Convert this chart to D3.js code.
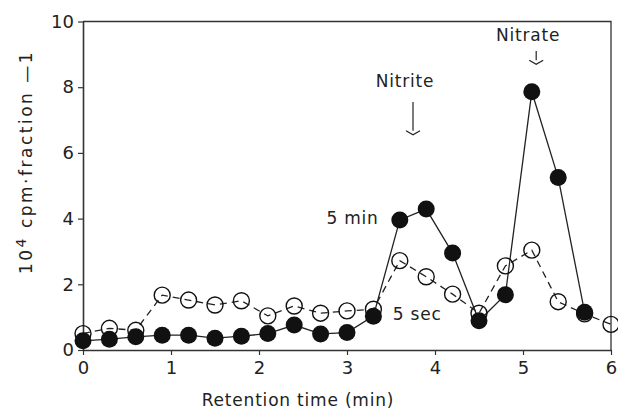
<!DOCTYPE html>
<html>
<head>
<meta charset="utf-8">
<script src="https://cdn.jsdelivr.net/npm/d3@7"></script>
<style>
  body { margin: 0; background: #fff; }
  text { font-family: "DejaVu Sans", sans-serif; fill: #222; }
</style>
</head>
<body>
<div id="chart"></div>
<script>
////////////////////////////////////////////////////////////////////////
// Data

// retention time of each collected fraction (min)
let time = [0, 0.3, 0.6, 0.9, 1.2, 1.5, 1.8, 2.1, 2.4, 2.7, 3.0,
            3.3, 3.6, 3.9, 4.2, 4.5, 4.8, 5.1, 5.4, 5.7, 6.0];

// 5 min labelling (filled circles), 10^4 cpm per fraction
let fiveMin = [0.28, 0.33, 0.40, 0.45, 0.45, 0.36, 0.42, 0.50, 0.76, 0.49, 0.53,
               1.03, 3.96, 4.29, 2.95, 0.89, 1.68, 7.86, 5.25, 1.15];

// 5 sec labelling (open circles)
let fiveSec = [0.50, 0.66, 0.60, 1.67, 1.52, 1.37, 1.50, 1.04, 1.34, 1.12, 1.19,
               1.24, 2.72, 2.23, 1.70, 1.12, 2.56, 3.04, 1.47, 1.10, 0.78];

let xTicks = [0, 1, 2, 3, 4, 5, 6];
let yTicks = [0, 2, 4, 6, 8, 10];

// peak markers: [label, retention time, label y value, arrow top, arrow tip]
let peaks = [
  ["Nitrite", 3.75, 8.0, 7.55, 6.55],
  ["Nitrate", 5.15, 9.4, 9.1, 8.7]
];

////////////////////////////////////////////////////////////////////////
// Layout

let width = 618;
let height = 414;

let svg = d3.select("#chart")
  .append("svg")
  .attr("width", width)
  .attr("height", height);

let xScale = d3.scaleLinear().domain([0, 6]).range([83, 611]);
let yScale = d3.scaleLinear().domain([0, 10]).range([350, 21.5]);

// frame: top and right edges
svg.append("path")
  .attr("d", `M${xScale(0)},${yScale(10)}H${xScale(6)}V${yScale(0)}`)
  .style("fill", "none")
  .style("stroke", "#333")
  .style("stroke-width", 1.3);

// axes
let xAxis = svg.append("g")
  .attr("transform", `translate(0, ${yScale(0)})`)
  .call(d3.axisBottom(xScale).tickValues(xTicks).tickFormat(d3.format("d"))
    .tickSize(5).tickPadding(6).tickSizeOuter(0));

let yAxis = svg.append("g")
  .attr("transform", `translate(${xScale(0)}, 0)`)
  .call(d3.axisLeft(yScale).tickValues(yTicks).tickFormat(d3.format("d"))
    .tickSize(5).tickPadding(4).tickSizeOuter(0));

[xAxis, yAxis].forEach(ax => {
  ax.select(".domain").style("stroke", "#333").style("stroke-width", 1.6);
  ax.selectAll(".tick line").style("stroke", "#333").style("stroke-width", 1.2);
  ax.selectAll(".tick text")
    .style("font-family", "DejaVu Sans, sans-serif")
    .style("font-size", "18px")
    .style("fill", "#222");
});

// axis titles
svg.append("text")
  .attr("x", 298)
  .attr("y", 406)
  .attr("text-anchor", "middle")
  .style("font-size", "17px")
  .style("letter-spacing", "0.8px")
  .text("Retention time (min)");

let yTitle = svg.append("text")
  .attr("transform", "translate(32, 162) rotate(-90)")
  .attr("text-anchor", "middle")
  .style("font-size", "17px")
  .style("letter-spacing", "2.5px");
yTitle.append("tspan").text("10");
yTitle.append("tspan").attr("dy", -6).style("font-size", "14px").text("4");
yTitle.append("tspan").attr("dy", 6).text(" cpm·fraction —1");

////////////////////////////////////////////////////////////////////////
// Series

let line = d3.line()
  .x((d, i) => xScale(time[i]))
  .y(d => yScale(d));

svg.append("path")
  .datum(fiveSec)
  .attr("d", line)
  .style("fill", "none")
  .style("stroke", "#222")
  .style("stroke-width", 1.3)
  .style("stroke-dasharray", "7,5");

svg.append("path")
  .datum(fiveMin)
  .attr("d", line)
  .style("fill", "none")
  .style("stroke", "#222")
  .style("stroke-width", 1.3);

svg.append("g")
  .selectAll("circle")
  .data(fiveSec)
  .join("circle")
  .attr("cx", (d, i) => xScale(time[i]))
  .attr("cy", d => yScale(d))
  .attr("r", 8)
  .style("fill", "none")
  .style("stroke", "#111")
  .style("stroke-width", 1.4);

svg.append("g")
  .selectAll("circle")
  .data(fiveMin)
  .join("circle")
  .attr("cx", (d, i) => xScale(time[i]))
  .attr("cy", d => yScale(d))
  .attr("r", 8.5)
  .style("fill", "#111");

////////////////////////////////////////////////////////////////////////
// Annotations

svg.append("text")
  .attr("x", xScale(3.36))
  .attr("y", yScale(3.85))
  .attr("text-anchor", "end")
  .style("font-size", "17px")
  .style("letter-spacing", "0.8px")
  .text("5 min");

svg.append("text")
  .attr("x", xScale(3.52))
  .attr("y", yScale(0.92))
  .style("font-size", "17px")
  .style("letter-spacing", "0.8px")
  .text("5 sec");

let marks = svg.append("g")
  .selectAll("g")
  .data(peaks)
  .join("g");

marks.append("text")
  .attr("x", d => xScale(d[1]) - 8)
  .attr("y", d => yScale(d[2]))
  .attr("text-anchor", "middle")
  .style("font-size", "17px")
  .style("letter-spacing", "0.8px")
  .text(d => d[0]);

marks.append("path")
  .attr("d", d => {
    let x = xScale(d[1]);
    return `M${x},${yScale(d[3])}V${yScale(d[4]) - 4}`;
  })
  .style("fill", "none")
  .style("stroke", "#222")
  .style("stroke-width", 1.2);

marks.append("path")
  .attr("d", d => {
    let x = xScale(d[1]), y = yScale(d[4]);
    return `M${x - 7},${y - 4}L${x},${y}L${x + 7},${y - 4}`;
  })
  .style("fill", "none")
  .style("stroke", "#222")
  .style("stroke-width", 1.2);
</script>
</body>
</html>
